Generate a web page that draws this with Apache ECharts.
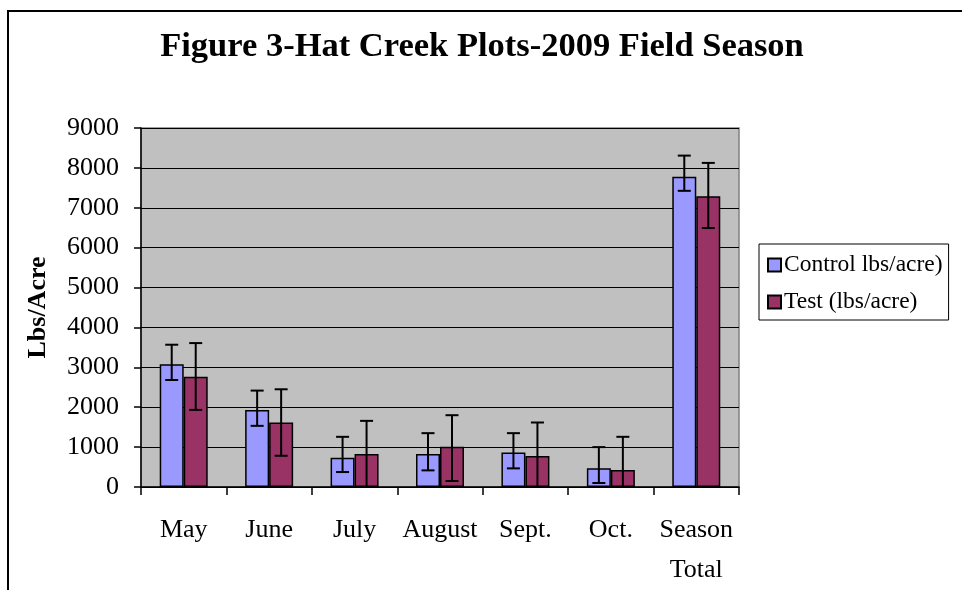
<!DOCTYPE html>
<html>
<head>
<meta charset="utf-8">
<script src="https://cdn.jsdelivr.net/npm/echarts@6/dist/echarts.min.js"></script>
<style>
  html, body { margin: 0; padding: 0; background: #fff; }
  #wrap { position: relative; width: 962px; height: 590px; overflow: hidden; }
  #frame { position: absolute; left: 7px; top: 10px; width: 1000px; height: 1000px;
           border-left: 2px solid #000; border-top: 2px solid #000; box-sizing: border-box; }
  #chart { position: absolute; left: 0; top: 0; width: 962px; height: 590px; }
</style>
</head>
<body>
<div id="wrap">
  <div id="frame"></div>
  <div id="chart"></div>
</div>
<script>
const categories = ['May', 'June', 'July', 'August', 'Sept.', 'Oct.', 'Season\nTotal'];
const controlValues = [3075, 1933, 733, 825, 867, 467, 7775];
const controlHigh   = [3567, 2417, 1258, 1350, 1350, 1000, 8308];
const controlLow    = [2683, 1533, 375, 417, 467, 100, 7425];
const testValues    = [2767, 1617, 825, 1008, 775, 425, 7292];
const testHigh      = [3608, 2450, 1658, 1800, 1617, 1258, 8125];
const testLow       = [1933, 783, -8, 150, -67, -408, 6492];
const seriesNames = ['Control lbs/acre)', 'Test (lbs/acre)'];
const yTicks = { min: 0, max: 9000, interval: 1000 };

const FONT = 'Liberation Serif';
const BAR_W = 24;

function errorSeries(low, high, side) {
  return {
    type: 'custom',
    clip: true,
    silent: true,
    z: 5,
    encode: { x: 0, y: [1, 2] },
    data: low.map((lo, i) => [i, lo, high[i]]),
    renderItem: function (params, api) {
      const cat = api.value(0);
      const top = api.coord([cat, api.value(2)]);
      const bot = api.coord([cat, api.value(1)]);
      const x = top[0] + side * BAR_W / 2;
      const cap = 6.5;
      const style = { stroke: '#000', lineWidth: 2, fill: null };
      return {
        type: 'group',
        children: [
          { type: 'line', shape: { x1: x, y1: top[1], x2: x, y2: bot[1] }, style: style },
          { type: 'line', shape: { x1: x - cap, y1: top[1], x2: x + cap, y2: top[1] }, style: style },
          { type: 'line', shape: { x1: x - cap, y1: bot[1], x2: x + cap, y2: bot[1] }, style: style }
        ]
      };
    }
  };
}

const chart = echarts.init(document.getElementById('chart'), null, { renderer: 'canvas' });
chart.setOption({
  animation: false,
  backgroundColor: 'transparent',
  title: {
    text: 'Figure 3-Hat Creek Plots-2009 Field Season',
    left: 477,
    textAlign: 'center',
    top: 25,
    textStyle: { fontFamily: FONT, fontSize: 34.5, fontWeight: 'bold', color: '#000' }
  },
  legend: {
    orient: 'vertical',
    left: 759,
    top: 244,
    padding: [9, 6, 6, 8],
    itemGap: 13,
    itemWidth: 13,
    itemHeight: 13,
    icon: 'rect',
    borderColor: '#000',
    borderWidth: 1,
    backgroundColor: '#fff',
    data: seriesNames,
    textStyle: { fontFamily: FONT, fontSize: 23.5, color: '#000', padding: [0, 0, 0, -2] }
  },
  grid: {
    left: 141, right: 223, top: 128, bottom: 103,
    show: true, backgroundColor: '#C0C0C0', borderColor: '#808080', borderWidth: 1.5
  },
  xAxis: {
    type: 'category',
    data: categories,
    axisLine: { lineStyle: { color: '#000', width: 1.5 } },
    axisTick: { show: true, length: 8, lineStyle: { color: '#000', width: 1.5 } },
    axisLabel: { fontFamily: FONT, fontSize: 26, color: '#000', margin: 23, lineHeight: 40, interval: 0 }
  },
  yAxis: {
    type: 'value',
    min: yTicks.min, max: yTicks.max, interval: yTicks.interval,
    name: 'Lbs/Acre',
    nameLocation: 'middle',
    nameGap: 90,
    nameTextStyle: { fontFamily: FONT, fontSize: 26, fontWeight: 'bold', color: '#000' },
    axisLine: { show: true, lineStyle: { color: '#000', width: 1.5 } },
    axisTick: { show: true, length: 7, lineStyle: { color: '#000', width: 1.5 } },
    axisLabel: { fontFamily: FONT, fontSize: 26, color: '#000', margin: 22,
                 formatter: function (v) { return String(v); } },
    splitLine: { show: true, lineStyle: { color: '#000', width: 1.2 } }
  },
  series: [
    {
      name: seriesNames[0], type: 'bar', data: controlValues,
      barWidth: BAR_W, barGap: '0%',
      itemStyle: { color: '#9999FF', borderColor: '#000', borderWidth: 1.5 }
    },
    {
      name: seriesNames[1], type: 'bar', data: testValues,
      barWidth: BAR_W, barGap: '0%',
      itemStyle: { color: '#993366', borderColor: '#000', borderWidth: 1.5 }
    },
    errorSeries(controlLow, controlHigh, -1),
    errorSeries(testLow, testHigh, 1)
  ]
});
</script>
</body>
</html>
